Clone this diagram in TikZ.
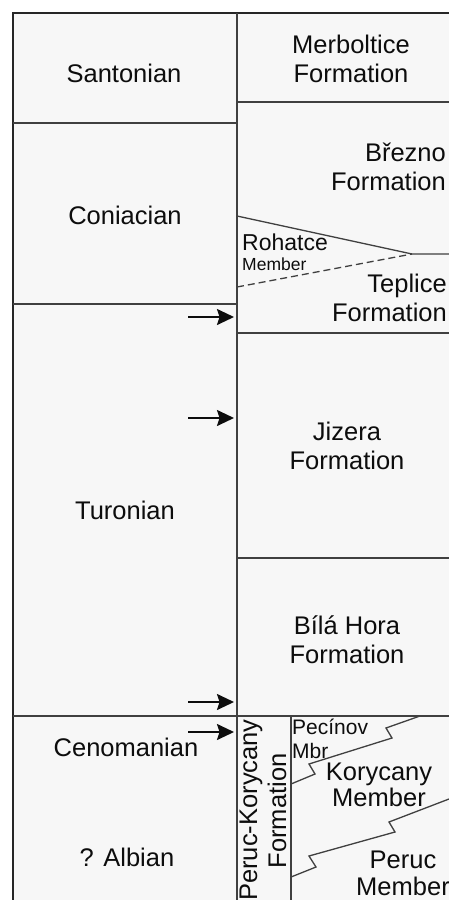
\documentclass[tikz,border=0pt]{standalone}
\usepackage{fontspec}
\setmainfont{Liberation Sans}
\usetikzlibrary{arrows.meta}
\begin{document}
\begin{tikzpicture}[x=1pt,y=-1pt,
  frame/.style={line width=2pt,draw=black!85},
  rule/.style={line width=1.3pt,draw=black!75},
  big/.style={font=\fontsize{25.5}{29}\selectfont,align=center,inner sep=0pt,text=black!95},
  mid/.style={font=\fontsize{23}{26}\selectfont,inner sep=0pt,text=black!95},
  small/.style={font=\fontsize{17.5}{20}\selectfont,inner sep=0pt,text=black!95},
  arr/.style={line width=1.8pt,draw=black!95,-{Stealth[length=17pt,width=16pt,inset=2.5pt]}}]
\useasboundingbox (0,0) rectangle (449,900);
\fill[black!3] (13,13) rectangle (449,900);
% frame
\draw[frame] (13,900) -- (13,13) -- (449,13);
\draw[rule] (237,13) -- (237,900);
% stage boundaries
\draw[rule] (13,123) -- (237,123);
\draw[rule] (13,304) -- (237,304);
\draw[rule] (13,716) -- (449,716);
% formation boundaries
\draw[rule] (237,102) -- (449,102);
\draw[rule] (237,216) -- (412,254) -- (449,254);
\draw[rule,dashed,dash pattern=on 7pt off 4pt] (237,287) -- (412,254);
\draw[rule] (237,333) -- (449,333);
\draw[rule] (237,558) -- (449,558);
\draw[rule] (291,716) -- (291,900);
% zigzags
\draw[rule] (291,784) -- (315,774) -- (309,764) -- (392,738) -- (386,728) -- (420,716);
\draw[rule] (291,877) -- (316,867) -- (309,856) -- (395,832) -- (389,822) -- (449,799);
% stages
\node[big] (san) at (124,73) {Santonian};
\node[big] (con) at (125,215) {Coniacian};
\node[big] (tur) at (125,510) {Turonian};
\node[big] (cen) at (126,747) {Cenomanian};
\node[big] (alb) at (127,857) {? Albian};
% formations
\node[big] (mer) at (351,59) {Merboltice\\Formation};
\node[big,align=right,anchor=east] (bre) at (446,167) {Březno\\Formation};
\node[mid,anchor=west] (roh) at (242,242) {Rohatce};
\node[small,anchor=west] (rohm) at (242,264) {Member};
\node[big,align=right,anchor=east] (tep) at (447,298) {Teplice\\Formation};
\node[big] (jiz) at (347,446) {Jizera\\Formation};
\node[big] (bil) at (347,640) {Bílá Hora\\Formation};
\node[big,rotate=90] (pk1) at (251,810) {Peruc-Korycany};
\node[big,rotate=90] (pk2) at (277,811) {Formation};
\node[small,anchor=west,align=left,font=\fontsize{21}{24}\selectfont] (pec) at (292,739) {Pecínov\\Mbr};
\node[big,font=\fontsize{25.5}{26}\selectfont] (kor) at (379,785) {Korycany\\Member};
\node[big,font=\fontsize{25.5}{27}\selectfont] (per) at (403,873) {Peruc\\Member};
% arrows
\coordinate (a1s) at (188,317); \coordinate (a1e) at (234,317);
\coordinate (a2s) at (188,418); \coordinate (a2e) at (234,418);
\coordinate (a3s) at (188,702); \coordinate (a3e) at (234,702);
\coordinate (a4s) at (188,732); \coordinate (a4e) at (234,732);
\draw[arr] (a1s) -- (a1e);
\draw[arr] (a2s) -- (a2e);
\draw[arr] (a3s) -- (a3e);
\draw[arr] (a4s) -- (a4e);
\end{tikzpicture}
\end{document}
